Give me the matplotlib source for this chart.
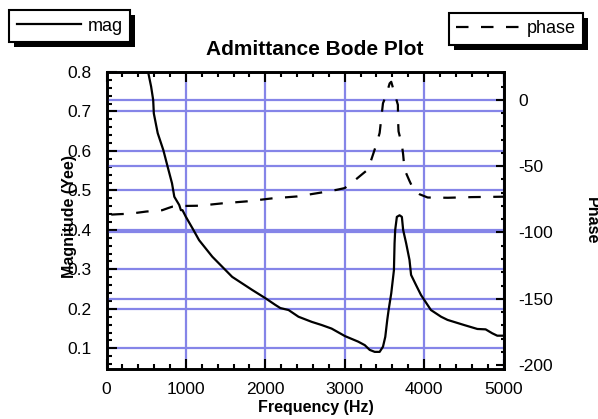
import matplotlib
matplotlib.use('Agg')
import matplotlib.pyplot as plt
from matplotlib.patches import Rectangle
from matplotlib.ticker import MultipleLocator, FixedLocator

plt.rcParams['font.family'] = ['Liberation Sans', 'DejaVu Sans']
plt.rcParams['lines.scale_dashes'] = False

# ---- data ----
mag_freq = [519, 562, 588, 596, 645, 716, 770, 825, 854, 916, 937, 957, 1000, 1083,
            1166, 1333, 1583, 1834, 2001, 2126, 2189, 2293, 2418, 2585, 2710, 2835,
            3003, 3169, 3253, 3315, 3378, 3440, 3482, 3511, 3536, 3553, 3586, 3620,
            3628, 3636, 3657, 3691, 3720, 3736, 3774, 3816, 3836, 3899, 3961, 4086,
            4214, 4295, 4504, 4671, 4775, 4859, 4921, 5000]
mag_vals = [0.805, 0.763, 0.729, 0.695, 0.645, 0.602, 0.560, 0.518, 0.484, 0.463,
            0.450, 0.450, 0.433, 0.404, 0.374, 0.332, 0.281, 0.248, 0.227, 0.210,
            0.202, 0.197, 0.180, 0.167, 0.159, 0.150, 0.131, 0.117, 0.108, 0.096,
            0.091, 0.091, 0.104, 0.129, 0.172, 0.197, 0.239, 0.298, 0.366, 0.400,
            0.433, 0.437, 0.433, 0.400, 0.366, 0.324, 0.286, 0.260, 0.235, 0.197,
            0.180, 0.172, 0.159, 0.149, 0.148, 0.138, 0.132, 0.132]

phase_freq = [60, 150, 300, 500, 700, 780, 830, 950, 1170, 1460, 1770, 2080, 2400,
              2710, 2900, 3000, 3110, 3200, 3294, 3357, 3398, 3440, 3482, 3523, 3566,
              3586, 3628, 3670, 3672, 3678, 3720, 3736, 3753, 3816, 3870, 3941, 4045,
              4300, 4600, 5000]
phase_vals = [-86.5, -86.2, -85.8, -84.2, -83.2, -81.5, -80.5, -80.0, -79.8, -78.0,
              -76.5, -74.3, -72.8, -69.8, -67.8, -66.5, -61.5, -57.0, -52.4, -41.1,
              -33.7, -24.9, -2.5, 3.7, 12.5, 13.7, 5.0, -3.7, -15.0, -23.7, -33.7,
              -41.1, -52.4, -61.1, -68.0, -71.1, -73.6, -73.8, -73.3, -73.0]

x_ticks = [0, 1000, 2000, 3000, 4000, 5000]
mag_ticks = [0.1, 0.2, 0.3, 0.4, 0.5, 0.6, 0.7, 0.8]
phase_ticks = [-200, -150, -100, -50, 0]

title = 'Admittance Bode Plot'
xlabel = 'Frequency (Hz)'
ylabel_left = 'Magnitude (Yee)'
ylabel_right = 'Phase'

GRID = '#8585e8'

fig = plt.figure(figsize=(5.98, 4.19), dpi=100)
ax = fig.add_axes([106.5 / 598, 1 - 369 / 419, 397 / 598, 297 / 419])
ax2 = ax.twinx()

ax.set_xlim(0, 5000)
ax.set_ylim(0.0476, 0.8)
ax2.set_ylim(-203.0, 21.1)

ax.xaxis.set_major_locator(FixedLocator(x_ticks))
ax.xaxis.set_minor_locator(MultipleLocator(200))
ax.yaxis.set_major_locator(FixedLocator(mag_ticks))
ax.yaxis.set_minor_locator(MultipleLocator(0.02))
ax2.yaxis.set_major_locator(FixedLocator(phase_ticks))
ax2.yaxis.set_minor_locator(MultipleLocator(10))

ax.set_xticklabels([str(v) for v in x_ticks])
ax.set_yticklabels([f'{v:.1f}' for v in mag_ticks])
ax2.set_yticklabels([str(v) for v in phase_ticks])

# grids
ax.grid(True, which='major', axis='both', color=GRID, lw=1.6)
ax.set_axisbelow(True)
ax2.grid(True, which='major', axis='y', color=GRID, lw=1.6)
ax2.set_axisbelow(True)
for gl, t in zip(ax2.get_ygridlines(), phase_ticks):
    if t == -200:
        gl.set_visible(False)

# lines (both drawn in the top axes so they sit above every grid line)
phase_line, = ax2.plot(phase_freq, phase_vals, color='black', lw=1.6,
                       linestyle=(0, (9.0, 9.0)), zorder=3)
mag_line, = ax2.plot(mag_freq, mag_vals, color='black', lw=1.6,
                     transform=ax.transData, zorder=4)

# ticks
ax.tick_params(axis='x', which='both', direction='in', top=True, bottom=True,
               labelsize=12.5, pad=9.0, width=1.5)
ax.tick_params(axis='x', which='major', length=7.5)
ax.tick_params(axis='x', which='minor', length=3.5)
ax.tick_params(axis='y', which='both', direction='in', left=True, right=False,
               labelsize=12.5, pad=10.5, width=1.5)
ax.tick_params(axis='y', which='major', length=7.5)
ax.tick_params(axis='y', which='minor', length=3.6)
ax2.tick_params(axis='y', which='both', direction='in', right=True,
                labelsize=12.5, pad=10.5, width=1.5)
ax2.tick_params(axis='y', which='major', length=5.5)
ax2.tick_params(axis='y', which='minor', length=2.2)

for a in (ax, ax2):
    for s in a.spines.values():
        s.set_linewidth(1.9)

# labels
ax.set_title(title, fontsize=15, fontweight='bold', x=0.525, y=1.057, pad=0)
ax.set_xlabel(xlabel, fontsize=11.5, fontweight='bold')
ax.xaxis.set_label_coords(0.528, -0.104)
ax.set_ylabel(ylabel_left, fontsize=11.5, fontweight='bold', va='center')
ax.yaxis.set_label_coords(-0.093, 0.513)
ax2.set_ylabel(ylabel_right, fontsize=11.5, fontweight='bold', rotation=-90, va='center')
ax2.yaxis.set_label_coords(1.222, 0.498)

# legends
common = dict(frameon=True, fancybox=False, edgecolor='black', framealpha=1,
              fontsize=13, handlelength=3.55, handletextpad=0.35, borderpad=0.42,
              borderaxespad=0, bbox_transform=fig.transFigure)
leg1 = fig.legend([mag_line], ['mag'], loc='upper left',
                  bbox_to_anchor=(9.3 / 598, 1 - 10 / 419), **common)
leg2 = fig.legend([phase_line], ['phase'], loc='upper right',
                  bbox_to_anchor=(583.3 / 598, 1 - 12.7 / 419), **common)
for lg in (leg1, leg2):
    lg.get_frame().set_linewidth(1.5)

fig.canvas.draw()
inv = fig.transFigure.inverted()
for lg in (leg1, leg2):
    bb = lg.get_window_extent()
    (x0, y0) = inv.transform((bb.x0 + 5, bb.y0 - 5))
    (x1, y1) = inv.transform((bb.x1 + 5, bb.y1 - 5))
    fig.add_artist(Rectangle((x0, y0), x1 - x0, y1 - y0, transform=fig.transFigure,
                             facecolor='black', edgecolor='none',
                             zorder=lg.get_zorder() - 0.1))

fig.savefig('out.png', dpi=100)
